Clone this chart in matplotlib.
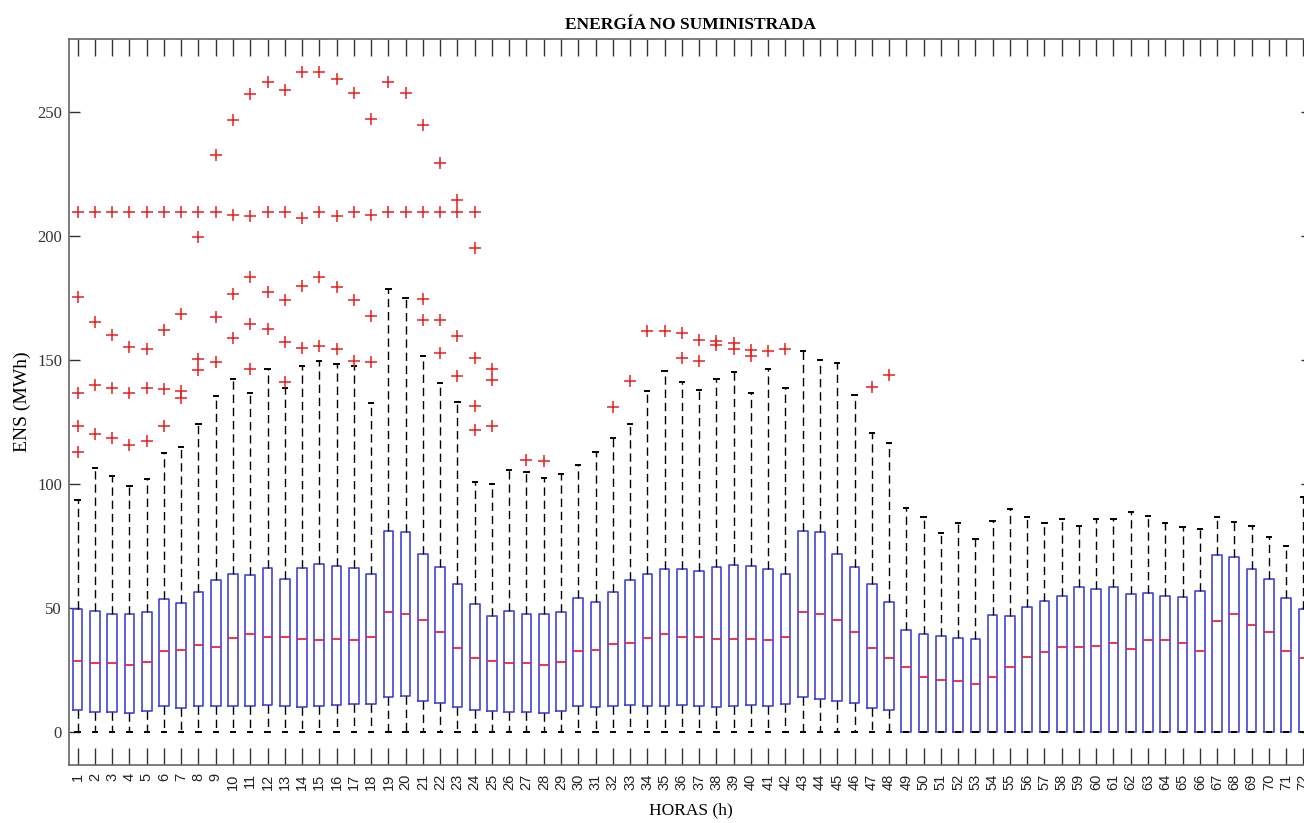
import matplotlib
matplotlib.use("Agg")
from matplotlib import pyplot as plt

# Hourly ENS distribution (MWh), hours 1..72
hours = list(range(1, 73))

q1 = [8.9, 8.0, 8.0, 7.8, 8.5, 10.5, 9.8, 10.5, 10.5, 10.5, 10.5, 10.9,
      10.5, 10.2, 10.5, 10.7, 11.1, 11.1, 14.0, 14.4, 12.6, 11.8, 9.9, 8.9,
      8.5, 8.0, 8.0, 7.8, 8.5, 10.5, 9.9, 10.5, 10.9, 10.5, 10.5, 10.7,
      10.5, 10.2, 10.5, 10.7, 10.5, 11.1, 14.0, 13.4, 12.6, 11.5, 9.8, 8.9,
      0, 0, 0, 0, 0, 0, 0, 0, 0, 0, 0, 0,
      0, 0, 0, 0, 0, 0, 0, 0, 0, 0, 0, 0]

medians = [28.6, 27.7, 27.7, 27.0, 28.4, 32.6, 33.0, 35.1, 34.4, 38.0, 39.4, 38.4,
           38.2, 37.5, 37.2, 37.6, 37.1, 38.4, 48.5, 47.4, 45.1, 40.4, 33.8, 30.0,
           28.6, 27.7, 27.7, 27.0, 28.4, 32.6, 33.0, 35.3, 35.7, 38.0, 39.4, 38.4,
           38.2, 37.5, 37.6, 37.6, 37.1, 38.4, 48.5, 47.4, 45.1, 40.4, 33.8, 30.0,
           26.1, 22.0, 21.0, 20.7, 19.2, 22.3, 26.1, 30.4, 32.1, 34.4, 34.1, 34.8,
           36.0, 33.3, 37.1, 37.1, 36.0, 32.6, 44.9, 47.6, 43.1, 40.2, 32.8, 30.0]

q3 = [49.7, 48.8, 47.6, 47.4, 48.2, 53.6, 52.0, 56.3, 61.2, 63.7, 63.2, 66.1,
      61.6, 66.3, 67.6, 67.1, 66.0, 63.7, 81.0, 80.5, 71.8, 66.4, 59.6, 51.5,
      46.8, 48.8, 47.4, 47.4, 48.2, 54.1, 52.5, 56.3, 61.2, 63.7, 65.9, 65.9,
      65.0, 66.4, 67.3, 67.1, 65.9, 63.7, 81.0, 80.5, 71.8, 66.4, 59.6, 52.5,
      41.1, 39.5, 38.7, 38.0, 37.7, 47.0, 46.8, 50.2, 52.9, 54.8, 58.3, 57.5,
      58.3, 55.5, 56.2, 55.0, 54.3, 57.0, 71.4, 70.6, 65.7, 61.7, 54.0, 49.6]

whisker_low = [0] * 72

whisker_high = [93.5, 106.3, 103.2, 99.2, 102.0, 112.6, 114.9, 124.2, 135.6, 142.2, 136.8, 146.3,
                138.6, 147.6, 149.6, 148.3, 147.7, 132.5, 178.7, 174.8, 151.6, 140.6, 133.0, 100.9,
                99.9, 105.6, 105.0, 102.3, 104.0, 107.7, 113.0, 118.4, 124.2, 137.5, 145.5, 141.0,
                138.0, 142.5, 145.0, 136.8, 146.2, 138.8, 153.5, 150.0, 148.7, 135.9, 120.7, 116.7,
                90.4, 86.6, 80.4, 84.1, 77.7, 85.0, 89.8, 86.6, 84.1, 85.9, 83.0, 86.0,
                85.7, 88.8, 87.2, 84.4, 82.5, 81.8, 86.6, 84.7, 83.0, 78.8, 74.8, 94.9]

outliers = [
    [209.8, 175.5, 136.5, 123.5, 113.0],
    [209.8, 165.5, 139.8, 120.3],
    [209.8, 160.1, 138.8, 118.4],
    [209.8, 155.2, 136.5, 115.8],
    [209.8, 154.6, 138.7, 117.4],
    [209.8, 162.2, 138.3, 123.2],
    [209.8, 168.4, 137.6, 134.5],
    [209.8, 199.4, 150.3, 146.0],
    [232.5, 209.8, 167.2, 149.2],
    [246.7, 208.6, 176.6, 158.9],
    [257.4, 208.0, 183.3, 164.6, 146.3],
    [262.2, 209.8, 177.6, 162.5],
    [258.9, 209.8, 174.2, 157.2, 141.2],
    [265.9, 207.3, 180.0, 154.8],
    [265.9, 209.8, 183.3, 155.8],
    [263.2, 207.9, 179.3, 154.4],
    [257.6, 209.8, 174.2, 149.7],
    [247.2, 208.6, 167.9, 149.2],
    [262.2, 209.8],
    [257.6, 209.8],
    [244.6, 209.8, 174.4, 166.2],
    [229.6, 209.8, 166.3, 153.0],
    [214.5, 209.8, 159.5, 143.6],
    [209.8, 195.1, 150.8, 131.4, 121.6],
    [146.4, 142.0, 123.4],
    [],
    [109.5],
    [109.2],
    [], [], [],
    [130.9],
    [141.7],
    [161.5],
    [161.5],
    [161.0, 150.6],
    [158.0, 149.5],
    [157.7, 156.2],
    [156.8, 154.6],
    [154.2, 151.7],
    [153.6],
    [154.3],
    [], [], [], [],
    [139.0],
    [143.9],
] + [[] for _ in range(24)]


def main():
    serif = "Liberation Serif"
    sans = "Liberation Sans"

    fig = plt.figure(figsize=(13.04, 8.23), dpi=100)
    # right edge of the axes sits just past the canvas
    ax = fig.add_axes([69 / 1304, 58 / 823, 1243 / 1304, 726 / 823])

    stats = []
    for i in range(len(hours)):
        stats.append({
            "label": str(hours[i]),
            "q1": q1[i],
            "med": medians[i],
            "q3": q3[i],
            "whislo": whisker_low[i],
            "whishi": whisker_high[i],
            "fliers": outliers[i],
        })

    ax.bxp(stats, positions=hours, widths=0.56, capwidths=0.25,
           boxprops=dict(color="#4444d6", linewidth=1.2),
           medianprops=dict(color="#e8283a", linewidth=1.3),
           whiskerprops=dict(color="black", linewidth=1.0, linestyle=(0, (6, 3.5))),
           capprops=dict(color="black", linewidth=1.4),
           flierprops=dict(marker="+", markeredgecolor="#e32222", markersize=8.5,
                           markeredgewidth=1.1, linestyle="none"),
           manage_ticks=False)

    ax.set_xlim(0.5, 72.5)
    ax.set_ylim(-13.3, 279.4)

    ax.set_xticks(hours)
    ax.set_xticklabels([str(h) for h in hours], rotation=90, fontsize=10.5,
                       family=sans, color="#222222")
    ax.set_yticks([0, 50, 100, 150, 200, 250])
    ax.set_yticklabels(["0", "50", "100", "150", "200", "250"], fontsize=12,
                       family=serif, color="#333333")

    ax.tick_params(axis="x", direction="in", top=True, bottom=True, length=12,
                   width=1.0, color="#333333", pad=6)
    ax.tick_params(axis="y", direction="in", left=True, right=True, length=8,
                   width=1.0, color="#333333", pad=5)

    for s in ax.spines.values():
        s.set_color("#666666")
        s.set_linewidth(1.2)

    ax.set_title("ENERGÍA NO SUMINISTRADA", fontsize=12.5, fontweight="bold",
                 family=serif, pad=7)
    ax.set_xlabel("HORAS (h)", fontsize=12.5, family=serif, labelpad=9)
    ax.set_ylabel("ENS (MWh)", fontsize=14, family=serif, labelpad=4)

    fig.savefig("out.png", dpi=100)


if __name__ == '__main__':
    main()
